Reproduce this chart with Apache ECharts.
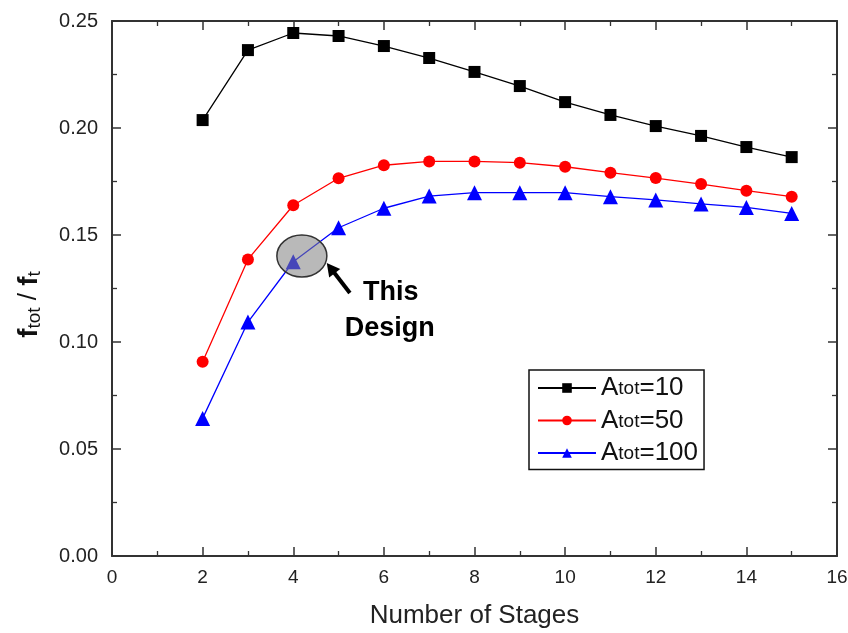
<!DOCTYPE html>
<html>
<head>
<meta charset="utf-8">
<script src="https://cdn.jsdelivr.net/npm/echarts@6/dist/echarts.min.js"></script>
<style>html,body{margin:0;padding:0;background:#fff;}#c{width:848px;height:633px;}</style>
</head>
<body>
<div id="c"></div>
<script>
const stages = [2,3,4,5,6,7,8,9,10,11,12,13,14,15];
const atot10 = [0.2037,0.2364,0.2444,0.2430,0.2383,0.2327,0.2262,0.2196,0.2121,0.2061,0.2009,0.1963,0.1911,0.1864];
const atot50 = [0.0908,0.1386,0.1639,0.1765,0.1826,0.1844,0.1844,0.1838,0.1819,0.1791,0.1766,0.1738,0.1707,0.1679];
const atot100 = [0.0643,0.1093,0.1375,0.1534,0.1625,0.1682,0.1698,0.1698,0.1698,0.1679,0.1664,0.1645,0.1629,0.1601];
const seriesNames = ['Atot=10','Atot=50','Atot=100'];
const xTicks = [0,2,4,6,8,10,12,14,16];
const yTicks = [0.00,0.05,0.10,0.15,0.20,0.25];
const designPoint = [4.19, 0.1402];
const arrowFrom = [5.25, 0.1229];
const arrowTo = [4.74, 0.1369];
const noteLines = ['This','Design'];
const notePos = [[6.15, 0.1229],[6.13, 0.1061]];

const chart = echarts.init(document.getElementById('c'), null, {renderer:'canvas'});
const axisColor = '#333';
const font = 'Liberation Sans, Arial, sans-serif';
function pairs(ys){ return stages.map((x,i)=>[x, ys[i]]); }

const baseAxis = {
  axisLine:{show:true, onZero:false, lineStyle:{color:axisColor, width:2}},
  axisTick:{show:true, inside:true, length:9, lineStyle:{color:axisColor, width:1.5}},
  minorTick:{show:true, splitNumber:2, length:5, lineStyle:{color:axisColor, width:1.3}},
  splitLine:{show:false}
};

const option = {
  animation:false,
  backgroundColor:'#fff',
  grid:{left:112, top:21, right:11, bottom:77, containLabel:false, outerBoundsMode:'none'},
  legend:{
    orient:'vertical', left:529, top:370,
    data:seriesNames,
    borderColor:'#111', borderWidth:1.5, backgroundColor:'#fff', borderRadius:0,
    padding:[5,6,3,8], itemWidth:58, itemHeight:12, itemGap:6,
    formatter:function(n){ return '{a|A}{b|tot}{a|' + n.slice(4) + '}'; },
    textStyle:{fontFamily:font, color:'#111', rich:{
      a:{fontSize:26, lineHeight:27, fontFamily:font, color:'#111'},
      b:{fontSize:19, lineHeight:27, fontFamily:font, color:'#111', verticalAlign:'bottom', padding:[0,0,3,0]}
    }}
  },
  xAxis:[
    Object.assign({}, baseAxis, {
      type:'value', min:0, max:16, interval:2, position:'bottom',
      name:'Number of Stages', nameLocation:'middle', nameGap:47,
      nameTextStyle:{fontFamily:font, fontSize:26, color:'#222'},
      axisLabel:{show:true, margin:12, fontFamily:font, fontSize:19, color:'#222',
        formatter:function(v){ return xTicks.indexOf(v)>=0 ? String(v) : ''; }}
    }),
    Object.assign({}, baseAxis, {
      type:'value', min:0, max:16, interval:2, position:'top',
      axisLabel:{show:false}
    })
  ],
  yAxis:[
    Object.assign({}, baseAxis, {
      type:'value', min:0, max:0.25, interval:0.05, position:'left',
      name:'{f|f}{s|tot}{m| / }{f|f}{s|t}', nameLocation:'middle', nameGap:68, nameRotate:90,
      nameTextStyle:{fontFamily:font, color:'#111', padding:[0,32,0,0], rich:{
        f:{fontSize:28, lineHeight:30, fontWeight:'bold', fontFamily:font, color:'#111'},
        m:{fontSize:26, lineHeight:30, fontFamily:font, color:'#111'},
        s:{fontSize:19, lineHeight:26, fontFamily:font, color:'#111', verticalAlign:'bottom'}
      }},
      axisLabel:{show:true, margin:14, fontFamily:font, fontSize:20, color:'#222',
        formatter:function(v){ return v.toFixed(2); }}
    }),
    Object.assign({}, baseAxis, {
      type:'value', min:0, max:0.25, interval:0.05, position:'right',
      axisLabel:{show:false}
    })
  ],
  series:[
    {name:seriesNames[0], type:'line', data:pairs(atot10), symbol:'rect', symbolSize:12,
      itemStyle:{color:'#000'}, lineStyle:{color:'#000', width:1.3}, z:3},
    {name:seriesNames[1], type:'line', data:pairs(atot50), symbol:'circle', symbolSize:12,
      itemStyle:{color:'#f00'}, lineStyle:{color:'#f00', width:1.3}, z:3},
    {name:seriesNames[2], type:'line', data:pairs(atot100), symbol:'triangle', symbolSize:15,
      itemStyle:{color:'#00f'}, lineStyle:{color:'#00f', width:1.3}, z:3}
  ]
};
chart.setOption(option);

function drawAnnotation(){
  const c = chart.convertToPixel({gridIndex:0}, designPoint);
  const a0 = chart.convertToPixel({gridIndex:0}, arrowFrom);
  const a1 = chart.convertToPixel({gridIndex:0}, arrowTo);
  const ang = Math.atan2(a1[1]-a0[1], a1[0]-a0[0]);
  const hl = 13, hw = 7;
  const bx = a1[0] - hl*Math.cos(ang), by = a1[1] - hl*Math.sin(ang);
  const px = -Math.sin(ang), py = Math.cos(ang);
  const g = [
    {type:'ellipse', shape:{cx:c[0], cy:c[1], rx:25, ry:21},
      style:{fill:'rgba(128,128,128,0.55)', stroke:'#333', lineWidth:1.5}, z:10},
    {type:'line', shape:{x1:a0[0], y1:a0[1], x2:bx+2*Math.cos(ang), y2:by+2*Math.sin(ang)},
      style:{stroke:'#000', lineWidth:4}, z:10},
    {type:'polygon', shape:{points:[[a1[0],a1[1]],[bx+px*hw,by+py*hw],[bx-px*hw,by-py*hw]]},
      style:{fill:'#000'}, z:10}
  ];
  noteLines.forEach(function(t,i){
    const p = chart.convertToPixel({gridIndex:0}, notePos[i]);
    g.push({type:'text', x:p[0], y:p[1], style:{text:t, fill:'#000',
      font:'bold 27px ' + font, align:'center', verticalAlign:'middle'}, z:10});
  });
  chart.setOption({graphic:g});
}
drawAnnotation();
</script>
</body>
</html>
